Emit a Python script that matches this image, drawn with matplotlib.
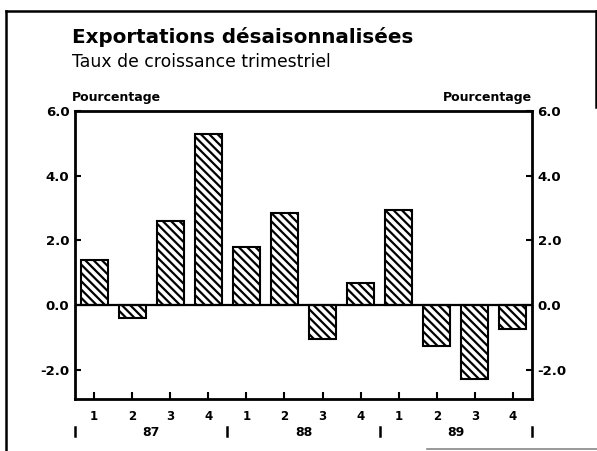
import matplotlib
matplotlib.use("Agg")
import matplotlib.pyplot as plt
from matplotlib.lines import Line2D
from matplotlib.transforms import blended_transform_factory

plt.rcParams['font.family'] = ['DejaVu Sans']
plt.rcParams['hatch.linewidth'] = 1.6

# donnees
quarters = ['1', '2', '3', '4'] * 3
years = ['87', '88', '89']
growth = [1.4, -0.4, 2.6, 5.3, 1.8, 2.85, -1.05, 0.7, 2.95, -1.25, -2.27, -0.74]
yticks = [-2.0, 0.0, 2.0, 4.0, 6.0]

W, H = 597, 451
fig = plt.figure(figsize=(W / 100, H / 100), dpi=100)
ax = fig.add_axes([75 / W, 1 - 399 / H, 457 / W, 288 / H])

x = list(range(len(growth)))
ax.bar(x, growth, width=0.71, color='white', edgecolor='black',
       linewidth=1.5, hatch='\\\\\\\\', zorder=2)
ax.axhline(0, color='black', lw=1.6, zorder=3)

ax.set_xlim(-0.5, len(growth) - 0.5)
ax.set_ylim(-2.9, 6.0)
for s in ax.spines.values():
    s.set_linewidth(2)

ax.set_xticks(x)
ax.set_xticklabels(quarters, fontsize=8.5, fontweight='bold')
ax.tick_params(axis='x', direction='in', length=5, width=1.5, pad=8)

ax.set_yticks(yticks)
ax.set_yticklabels(['%.1f' % v for v in yticks], fontsize=9.5, fontweight='bold')
ax.tick_params(axis='y', direction='in', length=4, width=1.5, pad=4,
               left=True, right=True, labelleft=True, labelright=True)

# annees et separateurs sous l'axe
tr = blended_transform_factory(ax.transData, ax.transAxes)
for i, yr in enumerate(years):
    ax.text(4 * i + 1.5, -0.115, yr, transform=tr, ha='center', va='center',
            fontsize=9, fontweight='bold')
for b in [-0.5, 3.5, 7.5, 11.5]:
    ax.add_line(Line2D([b, b], [-0.097, -0.128], transform=tr, color='black',
                       lw=1.8, clip_on=False))

# titres
fig.text(72 / W, 1 - 43 / H, 'Exportations désaisonnalisées', fontsize=14.3,
         fontweight='bold', va='baseline')
fig.text(72 / W, 1 - 67 / H, 'Taux de croissance trimestriel', fontsize=12.4,
         va='baseline')
fig.text(72 / W, 1 - 104 / H, 'Pourcentage', fontsize=9, fontweight='bold',
         va='bottom', ha='left')
fig.text(532 / W, 1 - 104 / H, 'Pourcentage', fontsize=9, fontweight='bold',
         va='bottom', ha='right')

# cadre
def fline(x0, y0, x1, y1, lw=1.8, c='black'):
    fig.add_artist(Line2D([x0 / W, x1 / W], [1 - y0 / H, 1 - y1 / H], color=c, lw=lw))

fline(6, 11, 596, 11)
fline(6, 11, 6, 451)
fline(596, 11, 596, 107)
fline(427, 449, 597, 449, lw=1.2, c='#888888')

fig.savefig('out.png', dpi=100)
